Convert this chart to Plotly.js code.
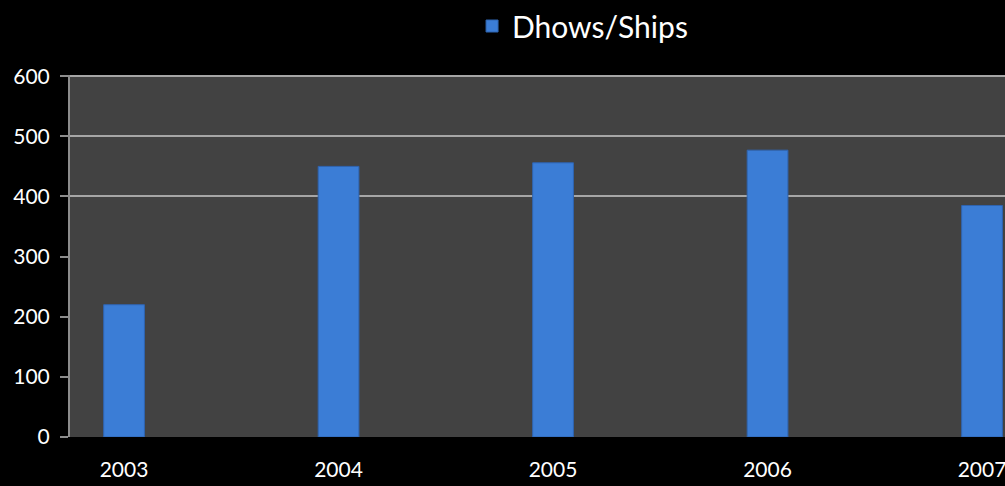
<!DOCTYPE html>
<html>
<head>
<meta charset="utf-8">
<script src="https://cdn.plot.ly/plotly-3.0.1.min.js"></script>
<style>html,body{margin:0;padding:0;background:#000;}#chart{width:1005px;height:486px;}</style>
</head>
<body>
<div id="chart"></div>
<script>
const years = ['2003', '2004', '2005', '2006', '2007'];
const dhowsShips = [220, 450, 456, 477, 385];
const yTicks = [0, 100, 200, 300, 400, 500, 600];
const gridTicks = [400, 500, 600];

const traces = [{
  type: 'bar',
  name: 'Dhows/Ships',
  x: years,
  y: dhowsShips,
  width: 0.19,
  marker: {color: '#3b7dd6', line: {color: '#2f64b0', width: 1}},
  hoverinfo: 'x+y'
}];

const layout = {
  width: 1005, height: 486,
  paper_bgcolor: '#000000',
  plot_bgcolor: '#424242',
  margin: {l: 70, r: 0, t: 75, b: 49},
  font: {family: 'Lato, "Open Sans", sans-serif', color: '#ffffff', size: 21},
  showlegend: true,
  legend: {orientation: 'h', x: 0.43, xanchor: 'left', yref: 'container', y: 1.0, yanchor: 'top',
           font: {size: 30, color: '#ffffff'}, bgcolor: 'rgba(0,0,0,0)'},
  xaxis: {type: 'category', range: [-0.252, 4.107], showgrid: false, zeroline: false,
          showline: false, ticks: '', tickfont: {size: 21, color: '#ffffff'}, ticklabelstandoff: 18},
  yaxis: {range: [0, 602], tickvals: yTicks, showgrid: false, zeroline: false,
          showline: true, linecolor: '#8c8c8c', linewidth: 2,
          ticks: 'outside', ticklen: 8, tickcolor: '#8c8c8c', tickwidth: 2,
          tickfont: {size: 21, color: '#ffffff'}, ticklabelstandoff: 6},
  yaxis2: {overlaying: 'y', range: [0, 602], tickvals: gridTicks, showgrid: true,
           gridcolor: '#a6a6a6', gridwidth: 2, showticklabels: false, zeroline: false, side: 'left'}
};

// invisible helper trace so the overlaying axis draws its gridlines
traces.push({type: 'scatter', x: [years[0]], y: [gridTicks[0]], yaxis: 'y2', mode: 'markers',
  marker: {opacity: 0}, showlegend: false, hoverinfo: 'skip'});

Plotly.newPlot('chart', traces, layout, {displayModeBar: false, staticPlot: true});
</script>
</body>
</html>
